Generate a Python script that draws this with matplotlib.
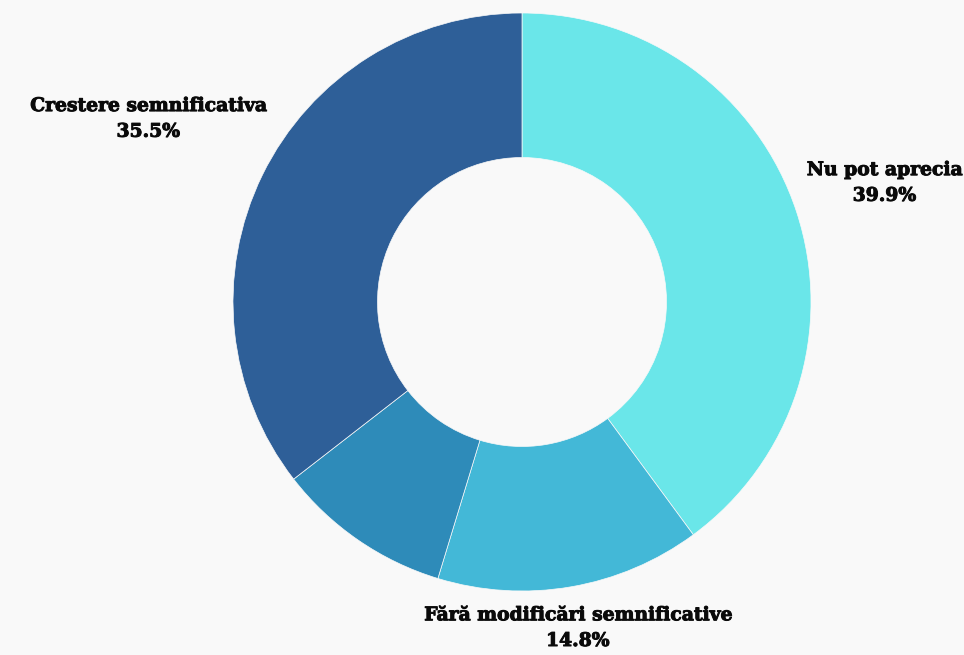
import matplotlib
matplotlib.use("Agg")
import matplotlib.pyplot as plt
import matplotlib.patheffects as pe
import numpy as np

labels = ["Nu pot aprecia", "Fără modificări semnificative", "", "Crestere semnificativa"]
values = [39.9, 14.8, 9.8, 35.5]
colors = ["#6ae6e9", "#43b8d7", "#2e8bb9", "#2e5f98"]
label_dist = [1.32, 1.145, None, 1.44]

W, H = 964, 655
fig = plt.figure(figsize=(W / 100, H / 100), dpi=100)
fig.patch.set_facecolor("#f9f9f9")

cx, cy, R = 522, 302, 289
ax = fig.add_axes([(cx - R) / W, (H - cy - R) / H, 2 * R / W, 2 * R / H])
ax.set_facecolor("none")

wedges, _ = ax.pie(values, colors=colors, startangle=90, counterclock=False,
                   radius=1.0, wedgeprops=dict(width=0.5, edgecolor="#f9f9f9", linewidth=0.5))

total = sum(values)
start = 90.0
for w, lab, v, d in zip(wedges, labels, values, label_dist):
    mid = np.deg2rad(start - v / total * 360 / 2)
    start -= v / total * 360
    if not lab:
        continue
    t = ax.text(d * np.cos(mid), d * np.sin(mid), f"{lab}\n{v:.1f}%",
                ha="center", va="center", fontsize=13.5, fontweight="bold",
                family="DejaVu Serif", color="#0a0a0a", linespacing=1.55)
    t.set_path_effects([pe.withStroke(linewidth=0.7, foreground="#0a0a0a")])

ax.set_xlim(-1, 1)
ax.set_ylim(-1, 1)
ax.axis("off")

fig.savefig("out.png", dpi=100, facecolor=fig.get_facecolor())
